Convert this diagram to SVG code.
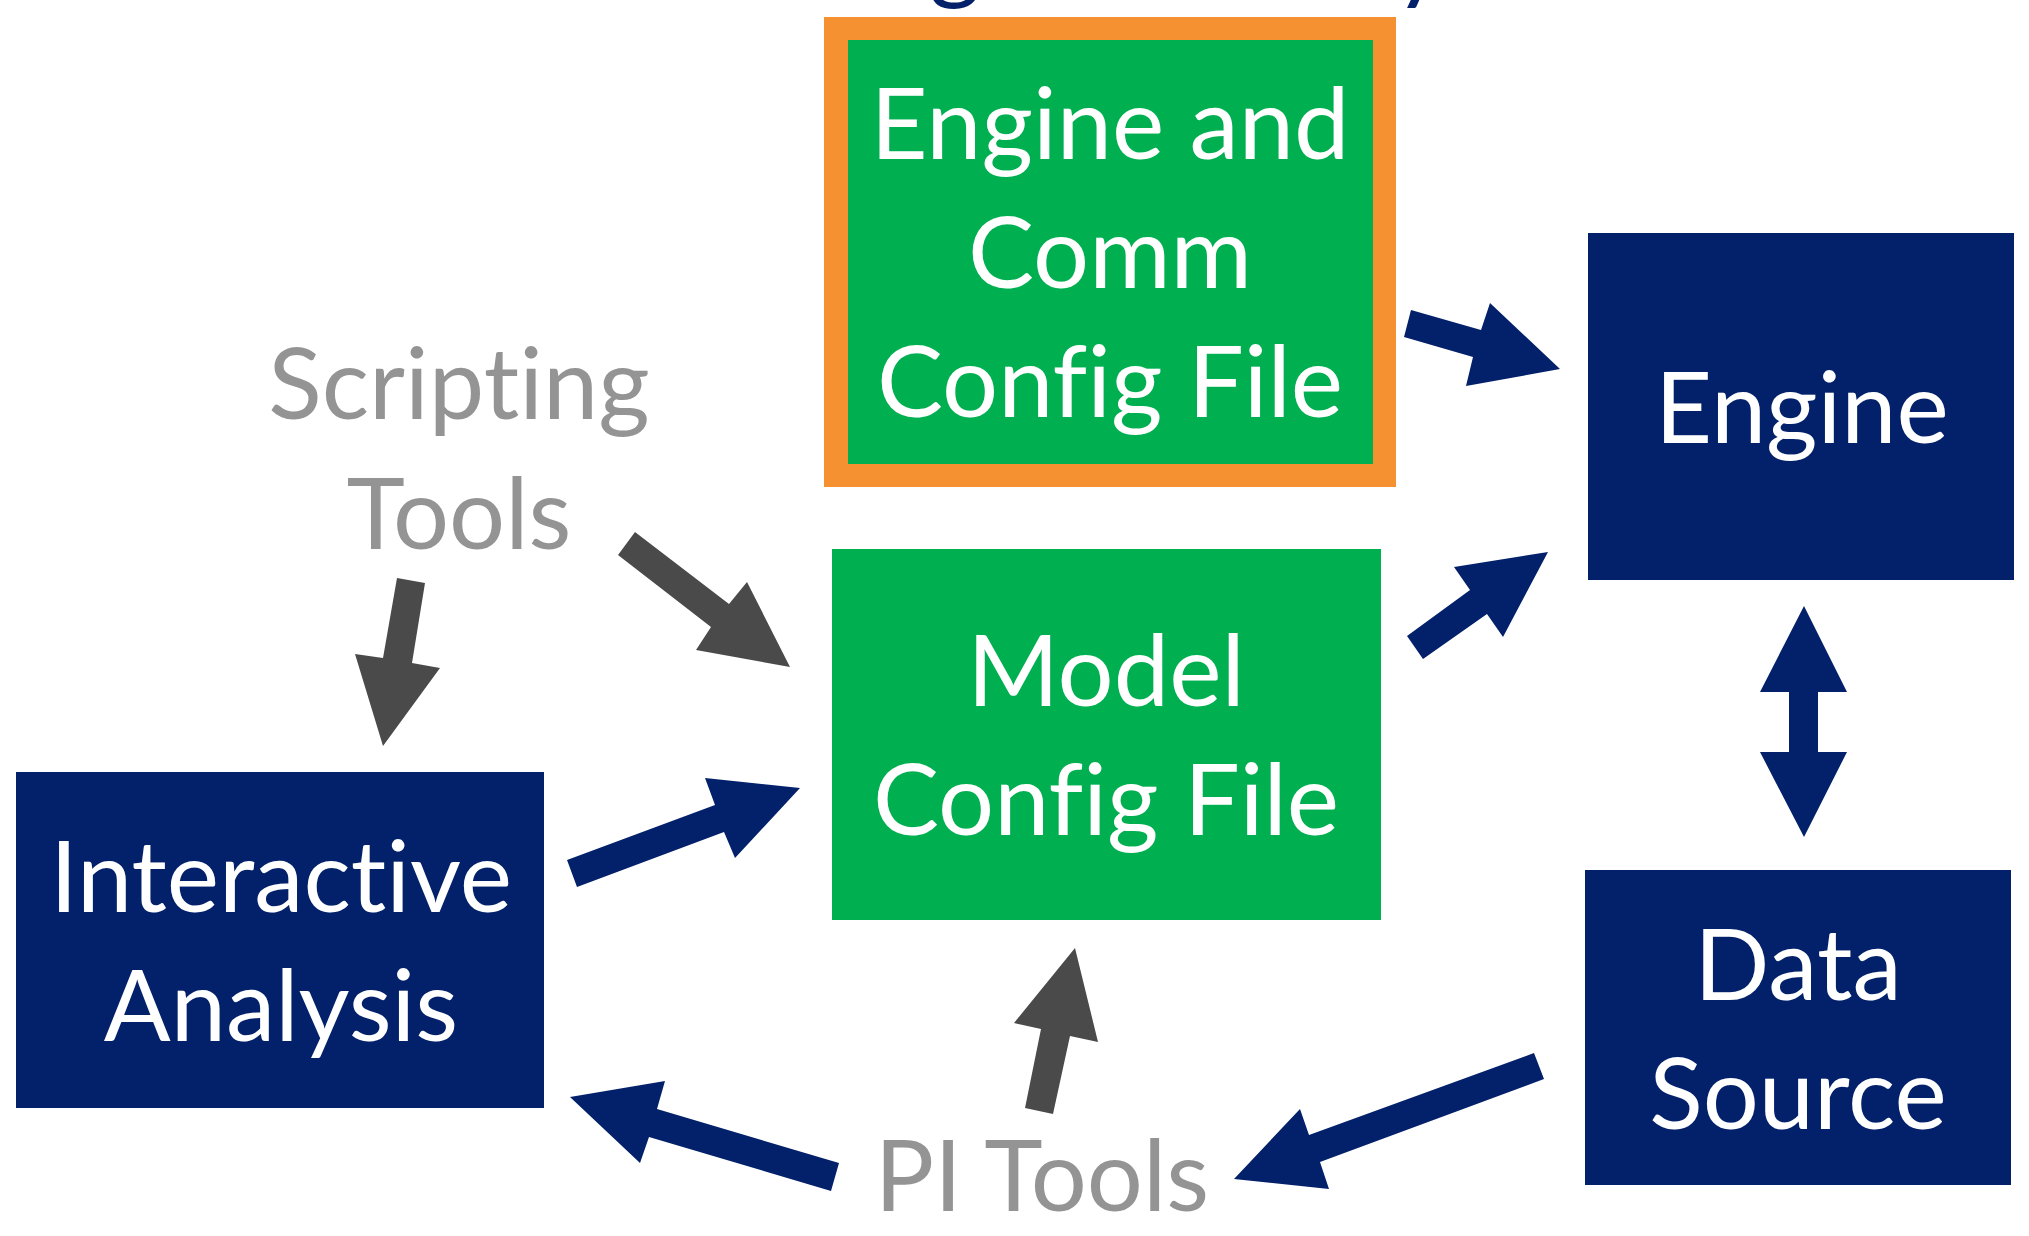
<svg xmlns="http://www.w3.org/2000/svg" width="2029" height="1236" viewBox="0 0 2029 1236">
<style>
.lbl{font-family:Lato,"Open Sans","Liberation Sans",sans-serif;font-size:99px;text-anchor:middle;font-variant-ligatures:none;font-feature-settings:"liga" 0,"clig" 0}
.w{fill:#FFFFFF}
.g{fill:#949494}
.navy{fill:#03216A}
.green{fill:#00AF50}
.orange{fill:#F69131}
.arrN{fill:#03216A}
.arrG{fill:#4A4A4A}
</style>
<rect width="2029" height="1236" fill="#FFFFFF"/>
<g id="title-fragment">
<text class="lbl navy" x="955" y="-9">g</text>
<text class="lbl navy" x="1420" y="-9">y</text>
</g>
<g id="engine-comm-config">
<rect class="orange" x="824" y="17" width="572" height="470"/>
<rect class="green" x="848" y="40" width="525" height="424"/>
<text class="lbl w" x="1110" y="159">Engine and</text>
<text class="lbl w" x="1110" y="288">Comm</text>
<text class="lbl w" x="1110" y="417">Config File</text>
</g>
<g id="engine">
<rect class="navy" x="1588" y="233" width="426" height="347"/>
<text class="lbl w" x="1802" y="443">Engine</text>
</g>
<g id="model-config">
<rect class="green" x="832" y="549" width="549" height="371"/>
<text class="lbl w" x="1106" y="706">Model</text>
<text class="lbl w" x="1106" y="835">Config File</text>
</g>
<g id="interactive-analysis">
<rect class="navy" x="16" y="772" width="528" height="336"/>
<text class="lbl w" x="281" y="912">Interactive</text>
<text class="lbl w" x="281" y="1041">Analysis</text>
</g>
<g id="data-source">
<rect class="navy" x="1585" y="870" width="426" height="315"/>
<text class="lbl w" x="1798" y="1000">Data</text>
<text class="lbl w" x="1798" y="1129">Source</text>
</g>
<g id="scripting-tools">
<text class="lbl g" x="459" y="419">Scripting</text>
<text class="lbl g" x="459" y="549">Tools</text>
</g>
<g id="pi-tools">
<text class="lbl g" x="1042" y="1211">PI Tools</text>
</g>
<g id="connectors">
<polygon class="arrN" points="1411,310 1481,330 1490,303 1560,369 1466,386 1473,357 1404,337"/>
<polygon class="arrN" points="1407,636 1470,590 1454,567 1548,552 1503,637 1487,614 1423,659"/>
<polygon class="arrN" points="1804,606 1847,692 1818,692 1818,752 1847,752 1804,837 1760,752 1789,752 1789,692 1760,692"/>
<polygon class="arrN" points="1534,1053 1309,1135 1300,1109 1234,1179 1329,1189 1320,1162 1544,1079"/>
<polygon class="arrN" points="839,1163 657,1109 665,1081 570,1097 640,1163 649,1137 831,1191"/>
<polygon class="arrN" points="567,860 715,805 705,778 800,788 735,858 724,832 577,887"/>
<polygon class="arrG" points="1025,1108 1041,1029 1014,1023 1075,948 1098,1042 1070,1036 1053,1114"/>
<polygon class="arrG" points="397,578 425,583 412,663 440,668 383,746 355,654 383,658"/>
<polygon class="arrG" points="635,532 729,604 747,582 790,667 696,650 711,627 618,555"/>
</g>
</svg>
